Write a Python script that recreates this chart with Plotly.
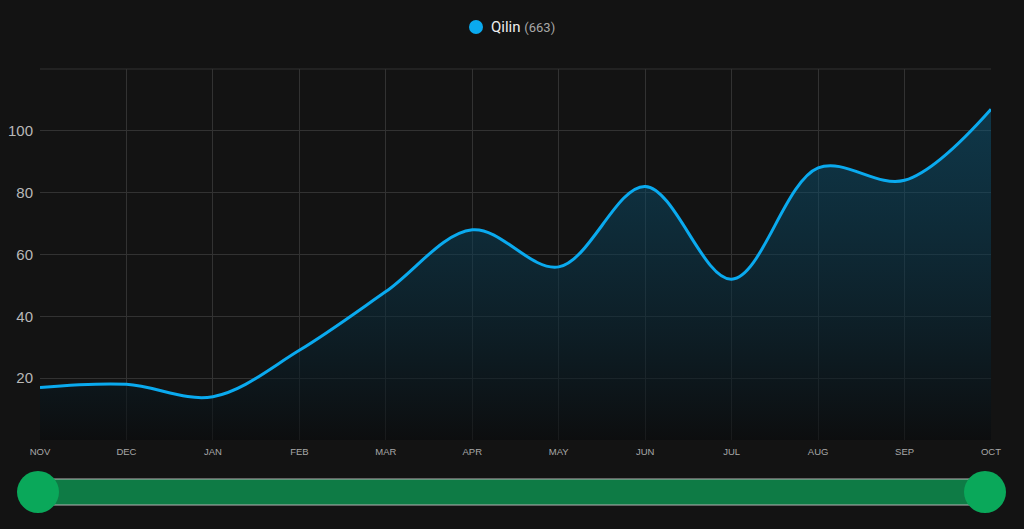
import plotly.graph_objects as go

months = ["NOV", "DEC", "JAN", "FEB", "MAR", "APR", "MAY", "JUN", "JUL", "AUG", "SEP", "OCT"]
values = [17, 18, 14, 29, 48, 68, 56, 82, 52, 88, 84, 107]
series_name = "Qilin"
total = sum(values)
y_ticks = [20, 40, 60, 80, 100]

BG = "#131313"
LINE = "#0aaaef"
GRID = "#323232"

fig = go.Figure()
fig.add_trace(go.Scatter(
    x=list(range(len(months))), y=values, mode="lines",
    line=dict(color=LINE, width=3, shape="spline", smoothing=1.0),
    fill="tozeroy",
    fillgradient=dict(type="vertical", start=0, stop=110,
                      colorscale=[[0, "rgba(8,10,12,0.6)"], [1, "rgba(10,100,140,0.45)"]]),
    showlegend=False, hoverinfo="x+y",
))

W, H = 1024, 529
ml, mr, mt, mb = 40, 33, 69, 89
pw, ph = W - ml - mr, H - mt - mb

def px_to_paper_x(px):
    return (px - ml) / pw

def py_to_paper_y(py):
    return (H - mb - py) / ph

shapes = []
# legend dot
shapes.append(dict(type="circle", xref="paper", yref="paper",
                   xsizemode="pixel", ysizemode="pixel",
                   xanchor=px_to_paper_x(476), yanchor=py_to_paper_y(27),
                   x0=-7, x1=7, y0=-7, y1=7,
                   fillcolor=LINE, line=dict(width=0)))
# slider bar
shapes.append(dict(type="rect", xref="paper", yref="paper",
                   x0=px_to_paper_x(45), x1=px_to_paper_x(980),
                   y0=py_to_paper_y(505), y1=py_to_paper_y(479),
                   fillcolor="#0e7b45", line=dict(color="#b5b5b5", width=1), layer="above"))
for cx in (38, 985):
    shapes.append(dict(type="circle", xref="paper", yref="paper",
                       xsizemode="pixel", ysizemode="pixel",
                       xanchor=px_to_paper_x(cx), yanchor=py_to_paper_y(492),
                       x0=-21, x1=21, y0=-21, y1=21,
                       fillcolor="#0aa85a", line=dict(width=0), layer="above"))
shapes.append(dict(type="line", xref="paper", yref="paper", x0=0, x1=1, y0=1, y1=1,
                   line=dict(color=GRID, width=1), layer="below"))

annotations = [dict(
    xref="paper", yref="paper", x=px_to_paper_x(489), y=py_to_paper_y(27),
    xanchor="left", yanchor="middle", showarrow=False,
    text=f"{series_name} <span style='color:#a8a8a8;font-size:13px'>({total})</span>",
    font=dict(family="Roboto, sans-serif", size=15, color="#eeeeee"),
)]

fig.update_layout(
    width=W, height=H,
    paper_bgcolor=BG, plot_bgcolor=BG,
    margin=dict(l=ml, r=mr, t=mt, b=mb, autoexpand=False),
    font=dict(family="Liberation Sans, Arial, sans-serif", color="#b0b0b0"),
    showlegend=False,
    xaxis=dict(range=[0, len(months) - 1], tickmode="array",
               tickvals=list(range(len(months))), ticktext=months,
               showgrid=True, gridcolor=GRID, gridwidth=1, zeroline=False,
               showline=False, ticks="", tickfont=dict(size=9.5, color="#a8a8a8"),
               ticklabelstandoff=4, automargin=False, fixedrange=True),
    yaxis=dict(range=[0, 120], tickmode="array", tickvals=y_ticks,
               showgrid=True, gridcolor=GRID, gridwidth=1, zeroline=False,
               showline=False, ticks="", tickfont=dict(size=15, color="#b8b8b8"),
               ticklabelstandoff=6, automargin=False, fixedrange=True),
    shapes=shapes,
    annotations=annotations,
)

fig.write_html("out.html")
